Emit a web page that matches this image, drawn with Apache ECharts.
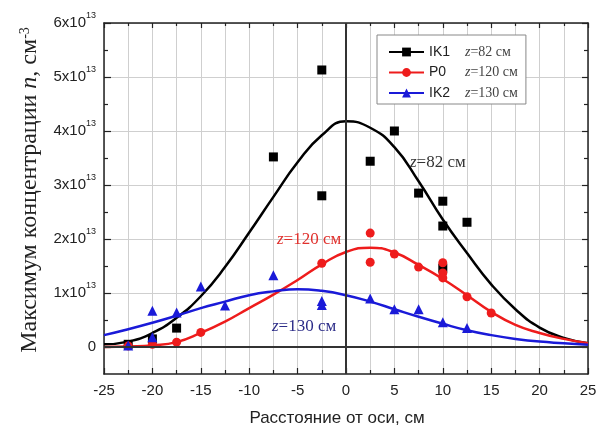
<!DOCTYPE html>
<html>
<head>
<meta charset="utf-8">
<script src="https://cdn.jsdelivr.net/npm/echarts@6/dist/echarts.min.js"></script>
<style>html,body{margin:0;padding:0;background:#fff}#c{width:603px;height:429px}</style>
</head>
<body>
<div id="c"></div>
<script>
// values in units of 1e13 cm^-3
const ik1X = [-22.5, -20, -17.5, -7.5, -2.5, -2.5, 2.5, 5, 7.5, 10, 10, 10, 12.5];
const ik1Y = [0.05, 0.15, 0.35, 3.52, 5.13, 2.8, 3.44, 4.0, 2.85, 2.7, 2.24, 1.46, 2.31];
const p0X = [-22.5, -20, -17.5, -15, -2.5, 2.5, 2.5, 5, 7.5, 10, 10, 10, 12.5, 15];
const p0Y = [0.02, 0.05, 0.09, 0.27, 1.55, 2.11, 1.57, 1.72, 1.48, 1.56, 1.37, 1.28, 0.93, 0.63];
const ik2X = [-22.5, -20, -20, -17.5, -15, -12.5, -7.5, -2.5, -2.5, 2.5, 5, 7.5, 10, 12.5];
const ik2Y = [0.03, 0.18, 0.67, 0.64, 1.12, 0.77, 1.33, 0.85, 0.78, 0.9, 0.70, 0.70, 0.46, 0.35];

const fitX = [-25, -22.5, -20, -17.5, -15, -12.5, -10, -7.5, -5, -2.5, 0, 2.5, 5, 7.5, 10, 12.5, 15, 17.5, 20, 22.5, 25];
const fitIK1 = [0.05, 0.1, 0.26, 0.54, 0.94, 1.48, 2.12, 2.78, 3.42, 3.92, 4.18, 4.06, 3.7, 3.07, 2.36, 1.74, 1.16, 0.7, 0.36, 0.17, 0.07];
const fitP0 = [0.0, 0.01, 0.03, 0.09, 0.26, 0.47, 0.72, 0.97, 1.24, 1.53, 1.76, 1.84, 1.75, 1.52, 1.26, 0.96, 0.65, 0.41, 0.26, 0.15, 0.07];
const fitIK2 = [0.22, 0.33, 0.45, 0.58, 0.72, 0.84, 0.96, 1.03, 1.07, 1.04, 0.96, 0.84, 0.70, 0.56, 0.43, 0.31, 0.22, 0.15, 0.10, 0.07, 0.04];

const yTicks = [0, 1, 2, 3, 4, 5, 6];
const xTicks = [-25, -20, -15, -10, -5, 0, 5, 10, 15, 20, 25];

const names = ['IK1', 'P0', 'IK2'];
const zLabels = ['=82 см', '=120 см', '=130 см'];
const colors = ['#000000', '#ee1c1c', '#1a1ad8'];

const pairs = (xs, ys) => xs.map((x, i) => [x, ys[i]]);

const chart = echarts.init(document.getElementById('c'), null, {renderer: 'canvas'});
const gridColor = '#cfcfcf';
const axisColor = '#222';
const sans = 'Liberation Sans, Arial, sans-serif';
const serif = 'Liberation Serif, Times New Roman, serif';

function fitSeries(i, ys, sym) {
  return {
    name: names[i], type: 'line', xAxisIndex: 0, yAxisIndex: 0,
    data: pairs(fitX, ys), smooth: 0.5, symbol: sym, showSymbol: false,
    lineStyle: {color: colors[i], width: 2.5}, itemStyle: {color: colors[i]},
    z: 3
  };
}
function ptSeries(i, xs, ys, sym, size) {
  return {
    name: names[i] + ' pts', type: 'scatter', xAxisIndex: 0, yAxisIndex: 0,
    data: pairs(xs, ys), symbol: sym, symbolSize: size,
    itemStyle: {color: colors[i], opacity: 1}, z: 4
  };
}

const series = [
  fitSeries(0, fitIK1, 'rect'),
  fitSeries(1, fitP0, 'circle'),
  fitSeries(2, fitIK2, 'triangle'),
  ptSeries(0, ik1X, ik1Y, 'rect', 9),
  ptSeries(1, p0X, p0Y, 'circle', 9),
  ptSeries(2, ik2X, ik2Y, 'triangle', 10)
];
series[0].markLine = {
  silent: true, symbol: ['none', 'none'], animation: false,
  label: {show: false},
  lineStyle: {color: '#333', width: 2, type: 'solid'},
  data: [{yAxis: 0}, {xAxis: 0}]
};

const option = {
  animation: false,
  backgroundColor: '#fff',
  grid: [
    {left: 104, right: 15, top: 23, bottom: 55},
    {left: 104, right: 15, top: 23, bottom: 82}
  ],
  xAxis: [
    {gridIndex: 0, type: 'value', min: -25, max: 25, interval: 5, position: 'bottom',
     axisLine: {onZero: false, lineStyle: {color: axisColor, width: 1.5}},
     axisTick: {inside: true, length: 6, lineStyle: {color: axisColor, width: 1.2}},
     minorTick: {show: true, splitNumber: 2, length: 4, lineStyle: {color: axisColor, width: 1.2}},
     axisLabel: {fontFamily: sans, fontSize: 15, color: '#222', margin: 9,
       formatter: v => xTicks.includes(v) ? String(v) : ''},
     splitLine: {show: true, lineStyle: {color: gridColor, width: 1}},
     minorSplitLine: {show: true, lineStyle: {color: gridColor, width: 1}}},
    {gridIndex: 0, type: 'value', min: -25, max: 25, interval: 5, position: 'top',
     axisLine: {onZero: false, lineStyle: {color: axisColor, width: 1.5}},
     axisTick: {inside: true, length: 5, lineStyle: {color: axisColor, width: 1.2}},
     minorTick: {show: true, splitNumber: 2, length: 3, lineStyle: {color: axisColor, width: 1.2}},
     axisLabel: {show: false}, splitLine: {show: false}},
    {gridIndex: 1, type: 'value', min: -25, max: 25, interval: 5, show: false}
  ],
  yAxis: [
    {gridIndex: 0, type: 'value', min: -0.5, max: 6, position: 'left',
     axisLine: {show: true, onZero: false, lineStyle: {color: axisColor, width: 1.5}},
     axisTick: {show: false}, axisLabel: {show: false}, splitLine: {show: false}},
    {gridIndex: 0, type: 'value', min: -0.5, max: 6, position: 'right',
     axisLine: {show: true, onZero: false, lineStyle: {color: axisColor, width: 1.5}},
     axisTick: {show: false}, axisLabel: {show: false}, splitLine: {show: false}},
    {gridIndex: 1, type: 'value', min: 0, max: 6, interval: 1, position: 'left',
     axisLine: {show: false, onZero: false},
     axisTick: {show: true, inside: true, length: 7, lineStyle: {color: axisColor, width: 1.2}},
     minorTick: {show: true, splitNumber: 2, length: 4, lineStyle: {color: axisColor, width: 1.2}},
     splitLine: {show: true, lineStyle: {color: gridColor, width: 1}},
     axisLabel: {margin: 8, color: '#222',
       formatter: v => yTicks.includes(v) ? (v === 0 ? '{b|0}' : '{b|' + v + 'x10}{s|13}') : '',
       rich: {
         b: {fontFamily: sans, fontSize: 15, color: '#222', lineHeight: 24},
         s: {fontFamily: sans, fontSize: 9, color: '#222', lineHeight: 9, verticalAlign: 'top'}
       }}},
    {gridIndex: 1, type: 'value', min: 0, max: 6, interval: 1, position: 'right',
     axisLine: {show: false, onZero: false},
     axisTick: {show: true, inside: true, length: 6, lineStyle: {color: axisColor, width: 1.2}},
     minorTick: {show: true, splitNumber: 2, length: 4, lineStyle: {color: axisColor, width: 1.2}},
     splitLine: {show: false}, axisLabel: {show: false}}
  ],
  legend: {
    data: names, orient: 'vertical', left: 377, top: 35,
    padding: [10, 8, 4, 11], itemGap: 6.5, itemWidth: 35, itemHeight: 11,
    backgroundColor: '#fff', borderColor: '#888', borderWidth: 1, borderRadius: 0,
    selectedMode: false,
    formatter: name => '{n|' + name + '}{z|z}{v|' + zLabels[names.indexOf(name)] + '}',
    textStyle: {
      lineHeight: 14,
      rich: {
        n: {fontFamily: sans, fontSize: 14, color: '#222', width: 36, lineHeight: 14},
        z: {fontFamily: serif, fontStyle: 'italic', fontSize: 14, color: '#444', lineHeight: 14},
        v: {fontFamily: serif, fontSize: 14, color: '#444', lineHeight: 14}
      }
    }
  },
  graphic: [
    {type: 'text', x: 30, y: 190, rotation: Math.PI / 2,
     style: {text: 'Максимум концентрации {i|n}, см{s|-3}', fontFamily: serif, fontSize: 24, fill: '#222',
       align: 'center', verticalAlign: 'middle',
       rich: {
         i: {fontFamily: serif, fontStyle: 'italic', fontSize: 24, fill: '#222'},
         s: {fontFamily: serif, fontSize: 14, fill: '#222', verticalAlign: 'top', lineHeight: 14}
       }}},
    {type: 'text', x: 337, y: 418,
     style: {text: 'Расстояние от оси, см', fontFamily: sans, fontSize: 17, fill: '#222',
       align: 'center', verticalAlign: 'middle'}},
    {type: 'text', x: 410, y: 163, z: 10,
     style: {text: '{i|z}=82 см', fontFamily: serif, fontSize: 17, fill: '#333',
       verticalAlign: 'middle', rich: {i: {fontStyle: 'italic', fontFamily: serif, fontSize: 17, fill: '#333'}}}},
    {type: 'text', x: 277, y: 240, z: 10,
     style: {text: '{i|z}=120 см', fontFamily: serif, fontSize: 17, fill: '#e0302c',
       verticalAlign: 'middle', rich: {i: {fontStyle: 'italic', fontFamily: serif, fontSize: 17, fill: '#e0302c'}}}},
    {type: 'text', x: 272, y: 327, z: 10,
     style: {text: '{i|z}=130 см', fontFamily: serif, fontSize: 17, fill: '#2c2c88',
       verticalAlign: 'middle', rich: {i: {fontStyle: 'italic', fontFamily: serif, fontSize: 17, fill: '#2c2c88'}}}}
  ],
  series: series
};
chart.setOption(option);
</script>
</body>
</html>
